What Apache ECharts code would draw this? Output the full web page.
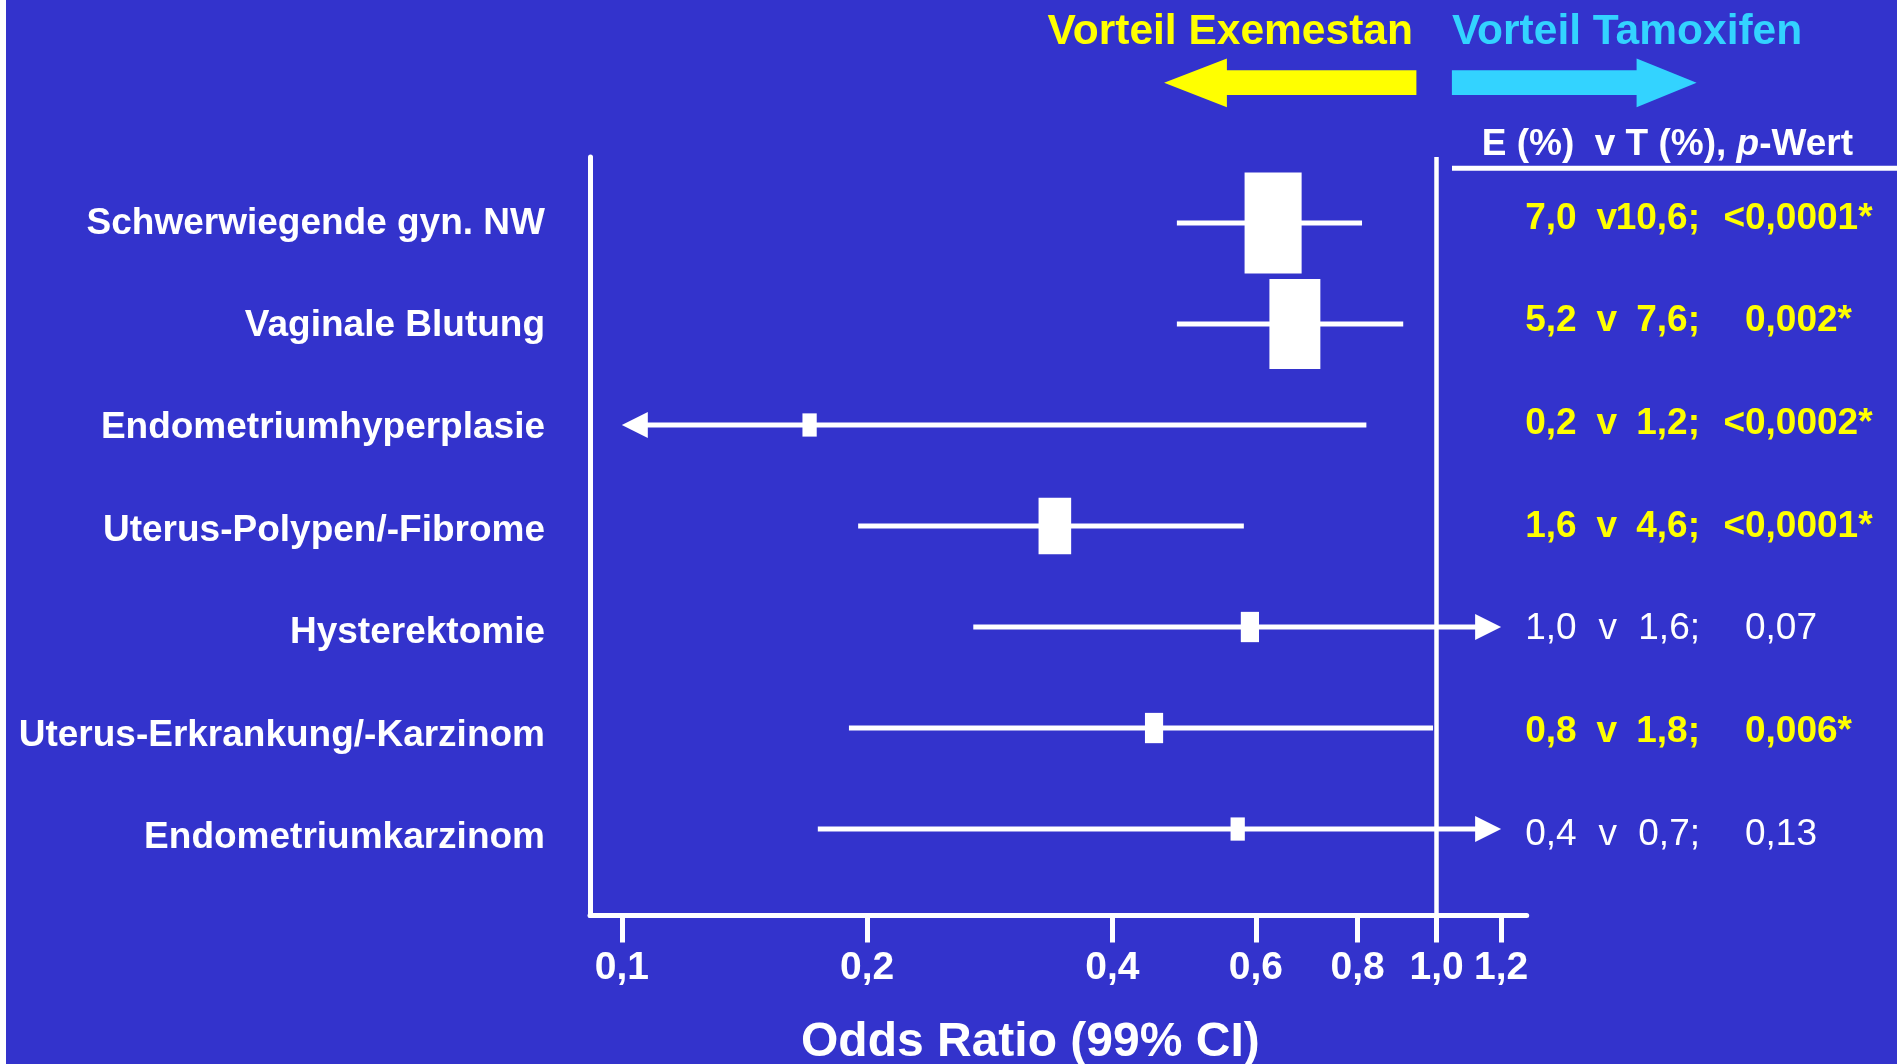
<!DOCTYPE html>
<html>
<head>
<meta charset="utf-8">
<script src="https://cdn.jsdelivr.net/npm/echarts@6/dist/echarts.min.js"></script>
<style>
  html, body { margin: 0; padding: 0; background: #ffffff; }
  #chart { width: 1897px; height: 1064px; }
</style>
</head>
<body>
<div id="chart"></div>
<script>
// ---- data -----------------------------------------------------------------
const categories = [
  'Schwerwiegende gyn. NW',
  'Vaginale Blutung',
  'Endometriumhyperplasie',
  'Uterus-Polypen/-Fibrome',
  'Hysterektomie',
  'Uterus-Erkrankung/-Karzinom',
  'Endometriumkarzinom'
];
const oddsRatio = [0.63, 0.67, 0.17, 0.34, 0.59, 0.45, 0.57];
const ciLow     = [0.48, 0.48, null, 0.195, 0.27, 0.19, 0.174]; // null = below the axis range
const ciHigh    = [0.81, 0.91, 0.82, 0.58, null, 0.99, null];   // null = above the axis range
const weights   = [100, 89, 23, 56, 30, 30, 23];                // relative weight of each estimate
const exemestanPct = ['7,0', '5,2', '0,2', '1,6', '1,0', '0,8', '0,4'];
const tamoxifenPct = ['10,6', '7,6', '1,2', '4,6', '1,6', '1,8', '0,7'];
const pValues      = ['<0,0001*', '0,002*', '<0,0002*', '<0,0001*', '0,07', '0,006*', '0,13'];
const xTicks = [0.1, 0.2, 0.4, 0.6, 0.8, 1.0, 1.2];
const ciDisplayRange = [0.1, 1.2];   // open-ended intervals are drawn as arrows to these limits

// ---- styling ---------------------------------------------------------------
const BG = '#3333CC';
const YELLOW = '#FFFF00';
const CYAN = '#33D3FF';
const WHITE = '#FFFFFF';
const FONT = '"Liberation Sans", Arial, Helvetica, sans-serif';

const GRID = { left: 590, right: 370.3, top: 157, bottom: 148.5 };
const GRID_RIGHT_X = 1897 - GRID.right;
const rowIndex = categories.map((_, i) => i);

// row extents: the marks, the category names and the table rows are spaced slightly differently
const MARK_ROWS  = { min: -0.653, max: 6.856 };
const LABEL_ROWS = { min: -0.649, max: 6.758 };
const TABLE_ROWS = { min: -0.599, max: 6.789 };

const isSignificant = i => pValues[i].endsWith('*');

// right-hand table, one column per axis
const tableColumns = [
  { text: i => exemestanPct[i],                          anchor: 1576.7, align: 'right' },
  { text: () => 'v',                                      anchor: 1617,   align: 'right' },
  { text: i => tamoxifenPct[i] + ';',                     anchor: 1700,   align: 'right' },
  { text: i => pValues[i].startsWith('<') ? '<' : '',     anchor: 1745,   align: 'right' },
  { text: i => pValues[i].replace('<', ''),               anchor: 1745,   align: 'left'  }
];

const tableRich = {
  b: { color: YELLOW, fontWeight: 'bold',   fontSize: 37, fontFamily: FONT },
  n: { color: WHITE,  fontWeight: 'normal', fontSize: 37, fontFamily: FONT }
};

function rowAxis(range, extra) {
  return Object.assign({
    type: 'value',
    inverse: true,
    min: range.min,
    max: range.max,
    splitLine: { show: false },
    axisTick: { show: false }
  }, extra);
}

const yAxes = [
  // 0: category names and the vertical axis line
  rowAxis(LABEL_ROWS, {
    position: 'left',
    axisLine: { show: true, onZero: false, lineStyle: { color: WHITE, width: 5 } },
    axisLabel: {
      customValues: rowIndex,
      formatter: v => categories[Math.round(v)] || '',
      color: WHITE,
      fontSize: 37,
      fontWeight: 'bold',
      fontFamily: FONT,
      margin: 45
    }
  }),
  // 1: rows for the estimates
  rowAxis(MARK_ROWS, {
    position: 'left',
    axisLine: { show: false },
    axisLabel: { show: false }
  })
].concat(tableColumns.map(col => rowAxis(TABLE_ROWS, {
  position: 'right',
  axisLine: { show: false },
  axisLabel: {
    customValues: rowIndex,
    align: col.align,
    margin: col.anchor - GRID_RIGHT_X,
    formatter: v => {
      const i = Math.round(v);
      const s = col.text(i);
      if (!s) return '';
      return isSignificant(i) ? '{b|' + s + '}' : '{n|' + s + '}';
    },
    rich: tableRich
  }
})));

const chart = echarts.init(document.getElementById('chart'), null, { renderer: 'canvas' });

chart.setOption({
  animation: false,
  backgroundColor: BG,
  grid: Object.assign({ containLabel: false, outerBoundsMode: 'none' }, GRID),
  xAxis: {
    type: 'log',
    logBase: 10,
    min: 0.0914,
    max: 1.29,
    axisLine: { show: true, onZero: false, lineStyle: { color: WHITE, width: 5 } },
    axisTick: { show: true, customValues: xTicks, length: 27, lineStyle: { color: WHITE, width: 5 } },
    minorTick: { show: false },
    splitLine: { show: false },
    axisLabel: {
      customValues: xTicks,
      formatter: v => Number(v).toFixed(1).replace('.', ','),
      color: WHITE,
      fontSize: 39,
      fontWeight: 'bold',
      fontFamily: FONT,
      margin: 33
    },
    name: 'Odds Ratio (99% CI)',
    nameLocation: 'middle',
    nameGap: 103,
    nameTextStyle: {
      color: WHITE,
      fontSize: 48,
      fontWeight: 'bold',
      fontFamily: FONT,
      padding: [0, 56, 0, 0]
    }
  },
  yAxis: yAxes,
  series: [{
    type: 'custom',
    coordinateSystem: 'cartesian2d',
    xAxisIndex: 0,
    yAxisIndex: 1,
    encode: { x: 0, y: 1 },
    data: oddsRatio.map((v, i) => [
      v, i,
      ciLow[i] == null ? ciDisplayRange[0] : ciLow[i],
      ciHigh[i] == null ? ciDisplayRange[1] : ciHigh[i],
      weights[i]
    ]),
    renderItem: function (params, api) {
      const i = params.dataIndex;
      const row = api.value(1);
      const c = api.coord([api.value(0), row]);
      const cx = c[0], cy = c[1];
      const xl = api.coord([api.value(2), row])[0];
      const xh = api.coord([api.value(3), row])[0];
      const headLen = 26, headHalf = 13, lw = 5;
      const children = [];
      let l = xl, r = xh;
      if (ciLow[i] == null) {
        children.push({
          type: 'polygon',
          shape: { points: [[xl, cy], [xl + headLen, cy - headHalf], [xl + headLen, cy + headHalf]] },
          style: { fill: WHITE }
        });
        l = xl + headLen - 1;
      }
      if (ciHigh[i] == null) {
        children.push({
          type: 'polygon',
          shape: { points: [[xh, cy], [xh - headLen, cy - headHalf], [xh - headLen, cy + headHalf]] },
          style: { fill: WHITE }
        });
        r = xh - headLen + 1;
      }
      children.push({
        type: 'rect',
        shape: { x: l, y: cy - lw / 2, width: r - l, height: lw },
        style: { fill: WHITE }
      });
      const h = api.value(4) * 1.01;
      const w = 0.55 * h + 1.5;
      children.push({
        type: 'rect',
        shape: { x: cx - w / 2, y: cy - h / 2, width: w, height: h },
        style: { fill: WHITE }
      });
      return { type: 'group', children: children };
    },
    markLine: {
      silent: true,
      animation: false,
      symbol: ['none', 'none'],
      label: { show: false },
      lineStyle: { color: WHITE, width: 4.5, type: 'solid' },
      data: [{ xAxis: 1 }]
    }
  }]
});

// ---- headings and direction arrows, anchored at OR = 1 ---------------------
const x1 = chart.convertToPixel({ xAxisIndex: 0 }, 1);
const arrowTop = 58.5, arrowBot = 107.3, shaftTop = 70.3, shaftBot = 95, arrowMid = 82.8;

chart.setOption({
  graphic: [
    { type: 'rect', shape: { x: 0, y: 0, width: 6, height: 1064 }, style: { fill: WHITE }, silent: true },
    {
      type: 'text', x: x1 - 23.7, y: 32.5,
      style: { text: 'Vorteil Exemestan', fill: YELLOW, fontSize: 42.5, fontWeight: 'bold', fontFamily: FONT,
               align: 'right', verticalAlign: 'middle', textAlign: 'right', textVerticalAlign: 'middle' }
    },
    {
      type: 'text', x: x1 + 15.3, y: 32.5,
      style: { text: 'Vorteil Tamoxifen', fill: CYAN, fontSize: 42.5, fontWeight: 'bold', fontFamily: FONT,
               align: 'left', verticalAlign: 'middle', textAlign: 'left', textVerticalAlign: 'middle' }
    },
    {
      type: 'polygon',
      shape: { points: [
        [x1 - 272.5, arrowMid], [x1 - 209.7, arrowTop], [x1 - 209.7, shaftTop], [x1 - 20.2, shaftTop],
        [x1 - 20.2, shaftBot], [x1 - 209.7, shaftBot], [x1 - 209.7, arrowBot]
      ] },
      style: { fill: YELLOW }
    },
    {
      type: 'polygon',
      shape: { points: [
        [x1 + 260, arrowMid], [x1 + 200, arrowTop], [x1 + 200, shaftTop], [x1 + 15.3, shaftTop],
        [x1 + 15.3, shaftBot], [x1 + 200, shaftBot], [x1 + 200, arrowBot]
      ] },
      style: { fill: CYAN }
    },
    {
      type: 'text', x: 1481.7, y: 145,
      style: {
        text: 'E (%)  v T (%), {i|p}-Wert',
        fill: WHITE, fontSize: 37, fontWeight: 'bold', fontFamily: FONT,
        align: 'left', verticalAlign: 'middle', textAlign: 'left', textVerticalAlign: 'middle',
        rich: { i: { fill: WHITE, color: WHITE, fontSize: 37, fontWeight: 'bold', fontStyle: 'italic', fontFamily: FONT } }
      }
    },
    { type: 'rect', shape: { x: 1452, y: 165.8, width: 445, height: 5 }, style: { fill: WHITE }, silent: true }
  ]
});
</script>
</body>
</html>
